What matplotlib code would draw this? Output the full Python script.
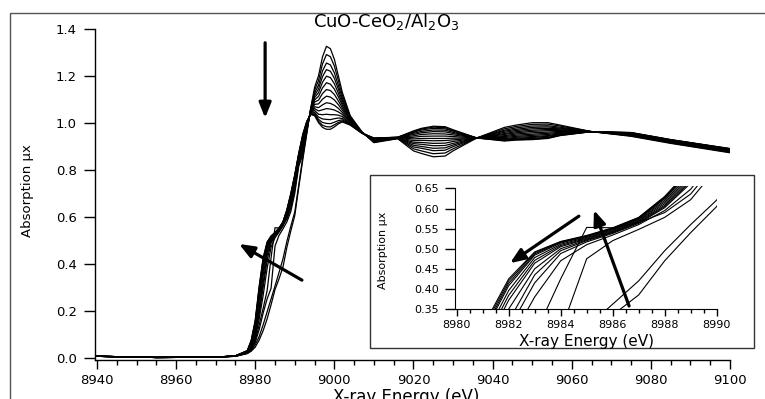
import matplotlib.pyplot as plt
from matplotlib.patches import Rectangle
from matplotlib.ticker import MultipleLocator, FormatStrFormatter

# energy grid (eV) shared by all scans
energy = [8940, 8955, 8970, 8975,
          8978, 8979, 8980, 8981, 8982, 8983, 8984, 8985, 8986, 8987, 8988, 8989, 8990, 8991,
          8992, 8993, 8994, 8995, 8996, 8997, 8998, 8999, 9000, 9001, 9002, 9004, 9007, 9010,
          9016, 9020, 9022, 9025, 9028, 9030, 9036, 9043, 9046, 9050, 9054, 9057, 9065, 9075,
          9085, 9100]

# absorption of each scan (scan_15 = CuO-like start, scan_01 = end)
scan_01 = [.006, .001, .002, .008,
           .030, .075, .160, .305, .425, .492, .518, .533, .552, .578, .630, .700, .780, .870,
           .950, 1.005, 1.035, 1.030, 1.000, .980, .972, .972, .982, .995, 1.003, .990, .955, .935,
           .938, .965, .976, .985, .983, .970, .935, .922, .926, .928, .933, .945, .962, .958, .928, .890]
scan_02 = [.006, .001, .002, .008,
           .030, .073, .155, .298, .420, .490, .517, .532, .551, .577, .628, .697, .777, .868,
           .947, 1.003, 1.036, 1.034, 1.006, .989, .983, .982, .991, 1.001, 1.007, .991, .955, .934,
           .938, .962, .973, .981, .979, .967, .935, .924, .928, .930, .935, .946, .962, .958, .928, .889]
scan_03 = [.006, .001, .002, .008,
           .029, .070, .150, .291, .414, .487, .516, .531, .550, .576, .626, .694, .774, .866,
           .942, 1.001, 1.037, 1.038, 1.014, 1.001, .997, .996, 1.002, 1.009, 1.012, .993, .955, .934,
           .938, .959, .969, .976, .974, .964, .935, .926, .931, .933, .938, .948, .962, .957, .927, .889]
scan_04 = [.006, .001, .002, .008,
           .028, .067, .145, .285, .408, .484, .514, .530, .549, .575, .624, .691, .771, .864,
           .937, .998, 1.038, 1.044, 1.024, 1.016, 1.014, 1.013, 1.017, 1.020, 1.018, .995, .956, .933,
           .937, .955, .963, .969, .968, .959, .935, .929, .934, .937, .942, .950, .962, .956, .926, .888]
scan_05 = [.006, .001, .002, .008,
           .027, .062, .137, .272, .396, .478, .511, .528, .547, .573, .620, .686, .766, .860,
           .930, .995, 1.040, 1.052, 1.036, 1.034, 1.036, 1.034, 1.034, 1.032, 1.026, .997, .956, .931,
           .937, .950, .957, .962, .961, .954, .935, .932, .938, .941, .945, .953, .962, .955, .925, .887]
scan_06 = [.006, .001, .002, .008,
           .026, .057, .128, .259, .384, .471, .508, .526, .545, .571, .616, .681, .761, .856,
           .923, .991, 1.041, 1.060, 1.050, 1.055, 1.060, 1.058, 1.054, 1.046, 1.035, 1.000, .956, .930,
           .937, .944, .950, .953, .952, .948, .935, .937, .942, .946, .950, .956, .962, .954, .924, .886]
scan_07 = [.006, .001, .002, .007,
           .025, .053, .120, .246, .372, .464, .505, .524, .543, .569, .612, .676, .756, .852,
           .915, .987, 1.043, 1.068, 1.064, 1.076, 1.085, 1.082, 1.074, 1.061, 1.044, 1.003, .957, .929,
           .936, .938, .942, .943, .943, .941, .935, .941, .947, .951, .955, .959, .962, .953, .923, .884]
scan_08 = [.006, .001, .002, .007,
           .024, .048, .105, .215, .350, .450, .500, .522, .541, .567, .608, .671, .751, .848,
           .906, .983, 1.045, 1.078, 1.080, 1.100, 1.113, 1.109, 1.097, 1.077, 1.054, 1.006, .957, .927,
           .936, .931, .933, .933, .933, .934, .935, .945, .952, .957, .960, .963, .962, .952, .922, .883]
scan_09 = [.006, .001, .002, .007,
           .023, .045, .098, .200, .320, .435, .495, .520, .540, .565, .605, .667, .747, .844,
           .897, .979, 1.047, 1.088, 1.096, 1.124, 1.141, 1.137, 1.120, 1.093, 1.064, 1.009, .957, .925,
           .935, .924, .925, .923, .924, .927, .935, .950, .957, .963, .966, .967, .962, .950, .920, .881]
scan_10 = [.006, .001, .002, .007,
           .022, .042, .090, .185, .300, .415, .488, .517, .538, .563, .602, .663, .743, .840,
           .888, .974, 1.049, 1.097, 1.112, 1.148, 1.170, 1.164, 1.143, 1.110, 1.074, 1.012, .958, .924,
           .935, .917, .916, .912, .913, .920, .935, .954, .962, .968, .971, .970, .962, .949, .919, .880]
scan_11 = [.006, .001, .002, .007,
           .021, .039, .082, .165, .265, .380, .470, .510, .534, .560, .595, .648, .730, .835,
           .880, .970, 1.051, 1.107, 1.128, 1.172, 1.198, 1.192, 1.166, 1.126, 1.084, 1.016, .958, .922,
           .934, .911, .908, .902, .903, .912, .935, .959, .967, .974, .976, .974, .962, .948, .918, .878]
scan_12 = [.006, .001, .002, .007,
           .020, .036, .072, .140, .210, .285, .425, .553, .552, .565, .590, .636, .715, .825,
           .871, .965, 1.053, 1.116, 1.144, 1.196, 1.226, 1.219, 1.189, 1.143, 1.094, 1.019, .959, .921,
           .934, .904, .899, .891, .893, .905, .935, .964, .972, .980, .982, .977, .962, .946, .916, .877]
scan_13 = [.006, .001, .002, .006,
           .019, .033, .065, .120, .190, .250, .295, .475, .520, .548, .578, .622, .700, .815,
           .862, .961, 1.055, 1.126, 1.160, 1.220, 1.254, 1.246, 1.212, 1.159, 1.105, 1.022, .959, .919,
           .933, .897, .891, .881, .883, .898, .935, .968, .978, .986, .987, .981, .962, .945, .915, .876]
scan_14 = [.006, .001, .002, .006,
           .018, .030, .055, .090, .140, .195, .250, .305, .362, .420, .495, .560, .621, .735,
           .851, .956, 1.058, 1.138, 1.180, 1.250, 1.290, 1.281, 1.241, 1.180, 1.117, 1.026, .960, .917,
           .933, .889, .880, .868, .871, .889, .935, .974, .984, .993, .994, .986, .962, .944, .914, .874]
scan_15 = [.006, .001, .002, .006,
           .018, .028, .045, .075, .115, .165, .225, .290, .335, .385, .470, .540, .605, .725,
           .840, .950, 1.060, 1.150, 1.200, 1.280, 1.325, 1.315, 1.270, 1.200, 1.130, 1.030, .960, .915,
           .932, .880, .869, .855, .858, .880, .935, .980, .990, 1.000, 1.000, .990, .962, .942, .912, .872]

scans = [scan_01, scan_02, scan_03, scan_04, scan_05, scan_06, scan_07, scan_08,
         scan_09, scan_10, scan_11, scan_12, scan_13, scan_14, scan_15]
assert all(len(s) == len(energy) for s in scans)

main_xticks = [8940, 8960, 8980, 9000, 9020, 9040, 9060, 9080, 9100]
main_yticks = [0.0, 0.2, 0.4, 0.6, 0.8, 1.0, 1.2, 1.4]
inset_xticks = [8980, 8982, 8984, 8986, 8988, 8990]
inset_yticks = [0.35, 0.40, 0.45, 0.50, 0.55, 0.60, 0.65]

title = r'CuO-CeO$_2$/Al$_2$O$_3$'
ylabel = 'Absorption μx'
xlabel = 'X-ray Energy (eV)'

plt.rcParams['font.family'] = 'DejaVu Sans'
plt.rcParams['mathtext.fontset'] = 'dejavusans'

W, H = 765, 399
fig = plt.figure(figsize=(W / 100, H / 100), dpi=100)

# main panel
ax = fig.add_axes([95 / W, 1 - 359.5 / H, 635 / W, (359.5 - 24) / H])
for s in scans:
    ax.plot(energy, s, color='black', lw=0.9)
ax.set_xlim(8939.5, 9100)
ax.set_ylim(-0.0077, 1.42)
ax.set_xticks(main_xticks)
ax.set_yticks(main_yticks)
ax.xaxis.set_minor_locator(MultipleLocator(5))
ax.yaxis.set_major_formatter(FormatStrFormatter('%.1f'))
ax.tick_params(axis='x', which='major', direction='out', length=6.5, width=1, pad=4, labelsize=9.5)
ax.tick_params(axis='x', which='minor', direction='out', length=3.5, width=1)
ax.tick_params(axis='y', which='major', direction='out', length=8, width=1, pad=5, labelsize=9.5)
for side in ['top', 'right']:
    ax.spines[side].set_visible(False)
ax.spines['left'].set_bounds(-0.0077, 1.4)
for side in ['left', 'bottom']:
    ax.spines[side].set_linewidth(1)

arrow_kw = dict(arrowstyle='-|>,head_length=0.45,head_width=0.18', color='black',
                lw=2.3, shrinkA=0, shrinkB=0, mutation_scale=20)
ax.annotate('', xy=(8982.5, 1.02), xytext=(8982.5, 1.34), arrowprops=arrow_kw)
ax.annotate('', xy=(8975.9, 0.484), xytext=(8991.8, 0.33), arrowprops=arrow_kw)

fig.text(386 / W, 1 - 27 / H, title, ha='center', va='baseline', fontsize=13)
fig.text(27 / W, 1 - 191 / H, ylabel, rotation=90, ha='center', va='center', fontsize=9.5)
fig.text(406 / W, 1 - 388 / H, xlabel, ha='center', va='top', fontsize=12)

# inset: zoom on the pre-edge shoulder
ins = fig.add_axes([455 / W, 1 - 309 / H, (716.7 - 455) / W, (309 - 186.4) / H])
for s in scans:
    ins.plot(energy, s, color='black', lw=0.8)
ins.set_xlim(8979.935, 8990)
ins.set_ylim(0.35, 0.655)
ins.set_xticks(inset_xticks)
ins.set_yticks(inset_yticks)
ins.xaxis.set_minor_locator(MultipleLocator(0.5))
ins.yaxis.set_major_formatter(FormatStrFormatter('%.2f'))
ins.tick_params(axis='x', which='major', direction='out', length=5, width=1, pad=3, labelsize=8)
ins.tick_params(axis='x', which='minor', direction='out', length=3, width=1)
ins.tick_params(axis='y', which='major', direction='out', length=7, width=1, pad=4.5, labelsize=8)
for side in ['top', 'right']:
    ins.spines[side].set_visible(False)
ins.spines['left'].set_bounds(0.35, 0.65)
ins.annotate('', xy=(8982.05, 0.464), xytext=(8984.7, 0.581), arrowprops=arrow_kw)
ins.annotate('', xy=(8985.28, 0.596), xytext=(8986.63, 0.3575), arrowprops=arrow_kw)

fig.text(383 / W, 1 - 250 / H, ylabel, rotation=90, ha='center', va='center', fontsize=8)
fig.text(586.5 / W, 1 - 346 / H, xlabel, ha='center', va='baseline', fontsize=11)

fig.patches.append(Rectangle((370 / W, 1 - 348 / H), (754 - 370) / W, (348 - 175) / H,
                             transform=fig.transFigure, fill=False, ec='#333333', lw=1))
fig.patches.append(Rectangle((10 / W, -0.1), 1.2, 1 - 13 / H + 0.1,
                             transform=fig.transFigure, fill=False, ec='#555555', lw=1))

fig.savefig('out.png', dpi=100)
